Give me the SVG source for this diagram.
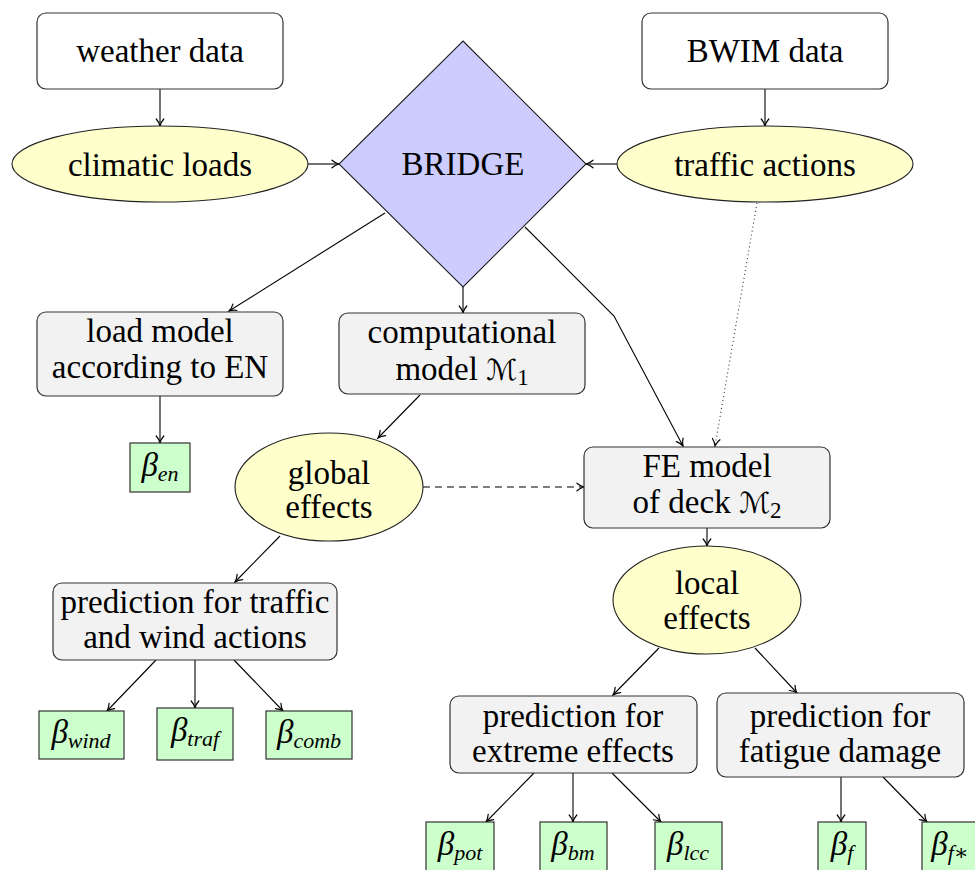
<svg xmlns="http://www.w3.org/2000/svg" width="975" height="870" viewBox="0 0 975 870">
<defs>
<style>
.t{font-family:"Liberation Serif","DejaVu Serif",serif;font-size:33px;fill:#000;text-anchor:middle}
.b{font-family:"Liberation Serif","DejaVu Serif",serif;font-style:italic;font-size:33px;fill:#000;text-anchor:middle}
.s{font-size:22px}
.cal{font-family:"DejaVu Sans","Noto Sans",sans-serif;font-size:29px}
.sub{font-size:23px}
.data{fill:#fff;stroke:#333;stroke-width:1.2}
.model{fill:#f2f2f2;stroke:#333;stroke-width:1.2}
.ell{fill:#ffffcc;stroke:#222;stroke-width:1.1}
.beta{fill:#ccffcc;stroke:#333;stroke-width:1.2}
.dia{fill:#ccccff;stroke:#222;stroke-width:1.1}
#edges path{fill:none;stroke:#000;stroke-width:1.1;marker-end:url(#ar)}
#edges path.dot{stroke:#333;stroke-dasharray:1 3}
#edges path.dash{stroke-dasharray:7 5}
</style>
<marker id="ar" markerWidth="12" markerHeight="12" refX="0" refY="0" orient="auto" markerUnits="userSpaceOnUse" viewBox="-10 -6 12 12" overflow="visible">
<path d="M-7,-3.8 C-4.5,-1.5 -1.5,-0.4 0,0 C-1.5,0.4 -4.5,1.5 -7,3.8" fill="none" stroke="#000" stroke-width="1.2" stroke-linecap="round" stroke-dasharray="none"/>
</marker>
</defs>
<rect width="975" height="870" fill="#fff"/>

<g id="edges">
<path d="M160,89 L160,126"/>
<path d="M765,89 L765,126"/>
<path d="M307,164 L339,164"/>
<path d="M617,164 L586,164"/>
<path d="M385,213 L229,311"/>
<path d="M463,287 L463,313"/>
<path d="M525,227 L614,316 L683,446"/>
<path class="dot" d="M757,203 L715,446"/>
<path d="M420,395 L378,438"/>
<path class="dash" d="M423,487 L584,487"/>
<path d="M160,396 L160,443"/>
<path d="M280,536 L235,582"/>
<path d="M156,660 L107,711"/>
<path d="M195,660 L195,708"/>
<path d="M234,660 L283,711"/>
<path d="M707,528 L707,546"/>
<path d="M659,648 L613,695"/>
<path d="M755,648 L797,693"/>
<path d="M534,773 L486,822"/>
<path d="M573,773 L573,822"/>
<path d="M612,773 L661,822"/>
<path d="M841,777 L841,822"/>
<path d="M883,777 L927,822"/>
</g>

<g id="weather"><rect class="data" x="37" y="13" width="246" height="76" rx="9"/><text class="t" x="160" y="62">weather data</text></g>
<g id="bwim"><rect class="data" x="642" y="13" width="246" height="76" rx="9"/><text class="t" x="765" y="62">BWIM data</text></g>
<g id="climatic"><ellipse class="ell" cx="160" cy="164" rx="148" ry="38"/><text class="t" x="160" y="176">climatic loads</text></g>
<g id="traffic"><ellipse class="ell" cx="765" cy="164" rx="148" ry="38"/><text class="t" x="765" y="176">traffic actions</text></g>
<g id="bridge"><polygon class="dia" points="463,41 586,164 463,287 339,164"/><text class="t" x="463" y="175">BRIDGE</text></g>
<g id="loadmodel"><rect class="model" x="37" y="312" width="246" height="84" rx="9"/><text class="t" x="160" y="342">load model</text><text class="t" x="160" y="378">according to EN</text></g>
<g id="comp"><rect class="model" x="339" y="313" width="246" height="81" rx="9"/><text class="t" x="462" y="343">computational</text><text class="t" x="462" y="380">model <tspan class="cal">ℳ</tspan><tspan class="sub" dy="5">1</tspan></text></g>
<g id="ben"><rect class="beta" x="130" y="443" width="60" height="49"/><text class="b" x="160" y="476">β<tspan class="s" dy="5">en</tspan></text></g>
<g id="global"><ellipse class="ell" cx="329" cy="487" rx="94" ry="54"/><text class="t" x="329" y="484">global</text><text class="t" x="329" y="518">effects</text></g>
<g id="fe"><rect class="model" x="584" y="447" width="246" height="81" rx="9"/><text class="t" x="707" y="477">FE model</text><text class="t" x="707" y="513">of deck <tspan class="cal">ℳ</tspan><tspan class="sub" dy="5">2</tspan></text></g>
<g id="local"><ellipse class="ell" cx="707" cy="600" rx="94" ry="54"/><text class="t" x="707" y="594">local</text><text class="t" x="707" y="629">effects</text></g>
<g id="trafwind"><rect class="model" x="53" y="583" width="284" height="77" rx="9"/><text class="t" x="195" y="613">prediction for traffic</text><text class="t" x="195" y="648">and wind actions</text></g>
<g id="extreme"><rect class="model" x="450" y="696" width="247" height="77" rx="9"/><text class="t" x="573" y="727">prediction for</text><text class="t" x="573" y="762">extreme effects</text></g>
<g id="fatigue"><rect class="model" x="717" y="693" width="247" height="84" rx="9"/><text class="t" x="840" y="727">prediction for</text><text class="t" x="840" y="762">fatigue damage</text></g>
<g id="bwind"><rect class="beta" x="39" y="711" width="85" height="48"/><text class="b" x="81" y="743">β<tspan class="s" dy="5">wind</tspan></text></g>
<g id="btraf"><rect class="beta" x="157" y="708" width="76" height="52"/><text class="b" x="195" y="741">β<tspan class="s" dy="5">traf</tspan></text></g>
<g id="bcomb"><rect class="beta" x="266" y="711" width="86" height="48"/><text class="b" x="309" y="743">β<tspan class="s" dy="5">comb</tspan></text></g>
<g id="bpot"><rect class="beta" x="426" y="822" width="68" height="52"/><text class="b" x="460" y="855">β<tspan class="s" dy="5">pot</tspan></text></g>
<g id="bbm"><rect class="beta" x="540" y="822" width="67" height="52"/><text class="b" x="573" y="855">β<tspan class="s" dy="5">bm</tspan></text></g>
<g id="blcc"><rect class="beta" x="655" y="822" width="67" height="52"/><text class="b" x="688" y="855">β<tspan class="s" dy="5">lcc</tspan></text></g>
<g id="bf"><rect class="beta" x="818" y="822" width="48" height="52"/><text class="b" x="842" y="855">β<tspan class="s" dy="5">f</tspan></text></g>
<g id="bfs"><rect class="beta" x="922" y="822" width="62" height="52"/><text class="b" x="950" y="855">β<tspan class="s" dy="5">f∗</tspan></text></g>
</svg>
